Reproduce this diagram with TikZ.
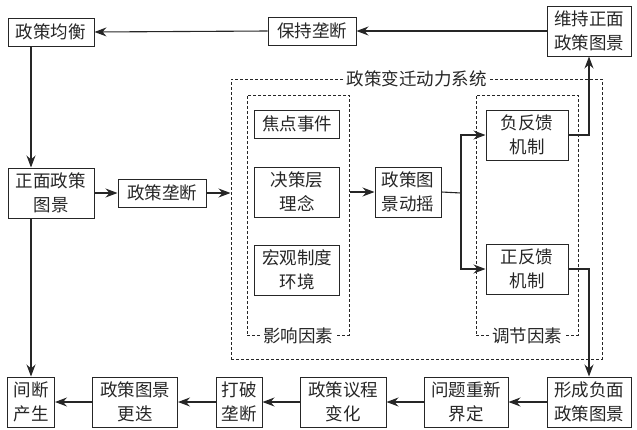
\documentclass[tikz,border=0pt]{standalone}
\usepackage{fontspec}
\newfontfamily\cjk{Noto Sans CJK SC}
\usepackage{tikz}
\usetikzlibrary{positioning,arrows.meta}
\tikzstyle{box} = [rectangle, draw, line width=1pt, align=center, inner xsep=5pt, inner ysep=2pt, minimum height=28pt, text=black!85, font=\cjk\fontsize{17.5}{24}\selectfont]
\tikzstyle{tall} = [minimum height=50pt]
\tikzstyle{frame} = [rectangle, draw, line width=1pt, dash pattern=on 3pt off 2pt, inner sep=0pt]
\tikzstyle{tag} = [fill=white, inner xsep=3pt, inner ysep=1pt, text=black!85, font=\cjk\fontsize{17.5}{24}\selectfont]
\tikzstyle{line} = [draw, line width=1.1pt, -{Stealth[length=12pt,width=9pt,inset=4pt]}]

\begin{document}
\begin{tikzpicture}[x=1pt, y=-1pt, draw=black!85]
	\useasboundingbox (0,0) rectangle (637,429);
	%% dynamic system frames
	\node[frame, minimum width=371pt, minimum height=280pt] (Sys) at (416.5,219) {};
	\node[frame, minimum width=102pt, minimum height=240pt] (Infl) at (298,215) {};
	\node[frame, minimum width=102pt, minimum height=240pt] (Reg) at (527,215) {};
	\node[tag] (SysT) at (Sys.north) {政策变迁动力系统};
	\node[tag] (InflT) at (Infl.south) {影响因素};
	\node[tag] (RegT) at (Reg.south) {调节因素};
	%% left column
	\node[box, tall, minimum width=86pt] (Front) at (51,193) {正面政策\\图景};
	\node[box, minimum width=86pt, above of=Front, node distance=161pt] (Eq) {政策均衡};
	\node[box, minimum width=88pt, right of=Front, node distance=111pt] (Mono) {政策垄断};
	%% influence factors
	\node[box, tall, minimum width=85pt] (Idea) at (297,192) {决策层\\理念};
	\node[box, minimum width=85pt, above of=Idea, node distance=68pt] (Focus) {焦点事件};
	\node[box, tall, minimum width=85pt, below of=Idea, node distance=78pt] (Macro) {宏观制度\\环境};
	%% shaking
	\node[box, tall, minimum width=66pt, right of=Idea, node distance=111pt] (Shake) {政策图\\景动摇};
	%% regulating factors
	\node[box, tall, minimum width=82pt] (NF) at (527,135) {负反馈\\机制};
	\node[box, tall, minimum width=82pt, below of=NF, node distance=134pt] (PF) {正反馈\\机制};
	%% top row
	\node[box, tall, minimum width=84pt] (Keep) at (589,31) {维持正面\\政策图景};
	\node[box, minimum width=88pt, left of=Keep, node distance=277pt] (Hold) {保持垄断};
	%% bottom row
	\node[box, tall, minimum width=84pt] (Neg) at (589,402) {形成负面\\政策图景};
	\node[box, tall, minimum width=84pt, left of=Neg, node distance=123pt] (Prob) {问题重新\\界定};
	\node[box, tall, minimum width=86pt, left of=Prob, node distance=123pt] (Agenda) {政策议程\\变化};
	\node[box, tall, minimum width=46pt, left of=Agenda, node distance=104pt] (Break) {打破\\垄断};
	\node[box, tall, minimum width=85pt, left of=Break, node distance=104pt] (Change) {政策图景\\更迭};
	\node[box, tall, minimum width=47pt, left of=Change, node distance=104pt] (Gap) {间断\\产生};
	%% split point
	\coordinate (J) at (461,193);
	%% edges
	\path[line] (Keep.west |- Hold.east) -- (Hold.east);
	\path[line] (Hold.west) -- (Eq.east);
	\path[line] (Eq.south -| Gap.north) -- (Front.north -| Gap.north);
	\path[line] (Front.south -| Gap.north) -- (Gap.north);
	\path[line] (Front.east) -- (Mono.west);
	\path[line] (Mono.east) -- (Sys.west |- Mono.east);
	\path[line] (Infl.east |- Shake.west) -- (Shake.west);
	\path[draw, line width=1.1pt] (Shake.east) -- (J);
	\path[line] (J) |- (NF.west);
	\path[line] (J) |- (PF.west);
	\path[line] (NF.east) -| (Keep.south);
	\path[line] (PF.east) -| (Neg.north);
	\path[line] (Neg.west) -- (Prob.east);
	\path[line] (Prob.west) -- (Agenda.east);
	\path[line] (Agenda.west) -- (Break.east);
	\path[line] (Break.west) -- (Change.east);
	\path[line] (Change.west) -- (Gap.east);
\end{tikzpicture}
\end{document}
